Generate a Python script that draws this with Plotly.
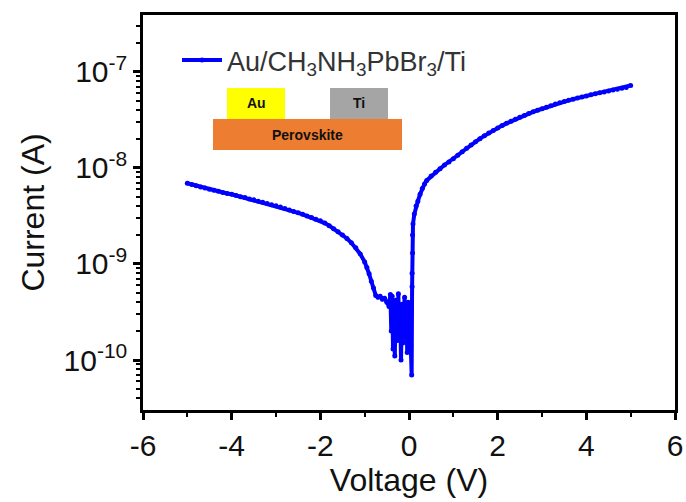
import plotly.graph_objects as go

# ---- data ----
neg_v = [-5.0, -4.9, -4.8, -4.7, -4.6, -4.5, -4.4, -4.3, -4.2, -4.1, -4.0, -3.9, -3.8, -3.7,
         -3.6, -3.5, -3.4, -3.3, -3.2, -3.1, -3.0, -2.9, -2.8, -2.7, -2.6, -2.5, -2.4, -2.3,
         -2.2, -2.1, -2.0, -1.9, -1.8, -1.7, -1.6, -1.5, -1.4, -1.3, -1.2, -1.1, -1.0, -0.95,
         -0.9, -0.85, -0.8, -0.75, -0.7, -0.65, -0.6, -0.55]
neg_i = [6.9e-9, 6.7e-9, 6.5e-9, 6.3e-9, 6.15e-9, 6.0e-9, 5.85e-9, 5.7e-9, 5.55e-9, 5.4e-9,
         5.3e-9, 5.15e-9, 5.0e-9, 4.9e-9, 4.75e-9, 4.64e-9, 4.5e-9, 4.38e-9, 4.25e-9, 4.13e-9,
         4.02e-9, 3.9e-9, 3.77e-9, 3.64e-9, 3.52e-9, 3.40e-9, 3.28e-9, 3.16e-9, 3.04e-9, 2.92e-9,
         2.81e-9, 2.66e-9, 2.5e-9, 2.32e-9, 2.16e-9, 2.0e-9, 1.84e-9, 1.66e-9, 1.47e-9, 1.27e-9,
         1.05e-9, 9.2e-10, 7.9e-10, 6.6e-10, 5.6e-10, 4.7e-10, 4.5e-10, 4.6e-10, 4.3e-10, 4.4e-10]

noise_v = [-0.50, -0.45, -0.42, -0.40, -0.38, -0.36, -0.34, -0.32, -0.30, -0.28, -0.26, -0.24,
           -0.22, -0.20, -0.18, -0.16, -0.14, -0.12, -0.10, -0.08, -0.06, -0.04, -0.02, 0.00,
           0.02, 0.04, 0.06, 0.07, 0.07, 0.08, 0.08, 0.09, 0.12, 0.16, 0.20]
noise_i = [4.0e-10, 3.6e-10, 4.8e-10, 2.0e-10, 4.6e-10, 1.3e-10, 3.0e-10, 1.1e-10, 4.2e-10,
           2.4e-10, 1.6e-10, 4.9e-10, 1.8e-10, 3.2e-10, 1.0e-10, 3.8e-10, 1.5e-10, 2.6e-10,
           4.5e-10, 1.9e-10, 3.5e-10, 1.2e-10, 4.0e-10, 2.2e-10, 3.0e-10, 1.4e-10, 7.0e-11,
           5.8e-10, 8.0e-10, 1.3e-9, 2.0e-9, 2.6e-9, 3.3e-9, 4.0e-9, 4.5e-9]

pos_v = [0.25, 0.3, 0.35, 0.4, 0.5, 0.6, 0.7, 0.8, 0.9, 1.0, 1.1, 1.2, 1.3, 1.4, 1.5, 1.6, 1.7,
         1.8, 1.9, 2.0, 2.1, 2.2, 2.3, 2.4, 2.5, 2.6, 2.7, 2.8, 2.9, 3.0, 3.1, 3.2, 3.3, 3.4,
         3.5, 3.6, 3.7, 3.8, 3.9, 4.0, 4.1, 4.2, 4.3, 4.4, 4.5, 4.6, 4.7, 4.8, 4.9, 5.0]
pos_i = [5.3e-9, 6.1e-9, 6.8e-9, 7.4e-9, 8.2e-9, 9.0e-9, 9.8e-9, 1.07e-8, 1.15e-8, 1.24e-8,
         1.35e-8, 1.47e-8, 1.6e-8, 1.73e-8, 1.87e-8, 2.01e-8, 2.15e-8, 2.3e-8, 2.45e-8, 2.6e-8,
         2.75e-8, 2.9e-8, 3.05e-8, 3.2e-8, 3.35e-8, 3.51e-8, 3.67e-8, 3.82e-8, 3.97e-8, 4.12e-8,
         4.27e-8, 4.43e-8, 4.6e-8, 4.75e-8, 4.9e-8, 5.04e-8, 5.18e-8, 5.31e-8, 5.45e-8, 5.6e-8,
         5.75e-8, 5.9e-8, 6.03e-8, 6.16e-8, 6.3e-8, 6.44e-8, 6.58e-8, 6.72e-8, 6.86e-8, 7.2e-8]

voltage = neg_v + noise_v + pos_v
current = neg_i + noise_i + pos_i

series_name = "Au/CH<sub>3</sub>NH<sub>3</sub>PbBr<sub>3</sub>/Ti"
x_ticks = [-6, -4, -2, 0, 2, 4, 6]
y_ticks = [1e-10, 1e-9, 1e-8, 1e-7]
y_ticktext = ["10<sup>-10</sup>", "10<sup>-9</sup>", "10<sup>-8</sup>", "10<sup>-7</sup>"]
inset_labels = ["Au", "Ti", "Perovskite"]

FONT = "Liberation Sans, Arial, sans-serif"

fig = go.Figure()
fig.add_trace(go.Scatter(
    x=voltage, y=current, mode="lines+markers", name=series_name,
    line=dict(color="#0000FF", width=4),
    marker=dict(color="#0000FF", size=5, symbol="circle"),
))

W, H = 686, 502
L, R, T, B = 143, 11, 15, 92
pw, ph = W - L - R, H - T - B


def px(x):
    return (x - L) / pw


def py(y):
    return (H - B - y) / ph


shapes = []
annotations = []
# inset: device schematic (paper coordinates)
rects = [
    (213, 119, 402, 150, "#ED7D31", inset_labels[2]),
    (227, 88, 285, 119, "#FFFF00", inset_labels[0]),
    (330, 88, 388, 119, "#A5A5A5", inset_labels[1]),
]
for x0, y0, x1, y1, col, lab in rects:
    shapes.append(dict(type="rect", xref="paper", yref="paper",
                       x0=px(x0), x1=px(x1), y0=py(y1), y1=py(y0),
                       fillcolor=col, line=dict(width=0), layer="above"))
    annotations.append(dict(xref="paper", yref="paper", x=px((x0 + x1) / 2), y=py((y0 + y1) / 2),
                            text="<b>%s</b>" % lab, showarrow=False,
                            font=dict(family=FONT, size=14, color="#111"),
                            xanchor="center", yanchor="middle"))

fig.update_layout(
    width=W, height=H,
    margin=dict(l=L, r=R, t=T, b=B, autoexpand=False),
    paper_bgcolor="white", plot_bgcolor="white",
    font=dict(family=FONT, color="#111"),
    showlegend=True,
    legend=dict(x=px(177), y=py(36), xanchor="left", yanchor="top",
                bgcolor="rgba(0,0,0,0)", font=dict(family=FONT, size=27, color="#333"),
                itemwidth=40, tracegroupgap=0),
    shapes=shapes,
    annotations=annotations,
    xaxis=dict(
        range=[-6, 6], tickvals=x_ticks, ticktext=[str(v) for v in x_ticks],
        automargin=False,
        showline=True, linecolor="black", linewidth=2.5, mirror=True,
        ticks="outside", ticklen=7, tickwidth=2.5, tickcolor="black",
        minor=dict(dtick=1, tick0=0, ticks="outside", ticklen=4, tickwidth=2, tickcolor="black"),
        showgrid=False, zeroline=False,
        tickfont=dict(family=FONT, size=30, color="#111"),
        title=dict(text="Voltage (V)", font=dict(family=FONT, size=32, color="#111"), standoff=6),
    ),
    yaxis=dict(
        type="log", range=[-10.52, -6.41], tickvals=y_ticks, ticktext=y_ticktext,
        automargin=False,
        showline=True, linecolor="black", linewidth=2.5, mirror=True,
        ticks="outside", ticklen=7, tickwidth=2.5, tickcolor="black",
        minor=dict(dtick="D1", ticks="outside", ticklen=4, tickwidth=1.5, tickcolor="black"),
        showgrid=False, zeroline=False,
        tickfont=dict(family=FONT, size=30, color="#111"),
        title=dict(text="Current (A)", font=dict(family=FONT, size=32, color="#111"), standoff=10),
    ),
)

fig.write_html("out.html")
